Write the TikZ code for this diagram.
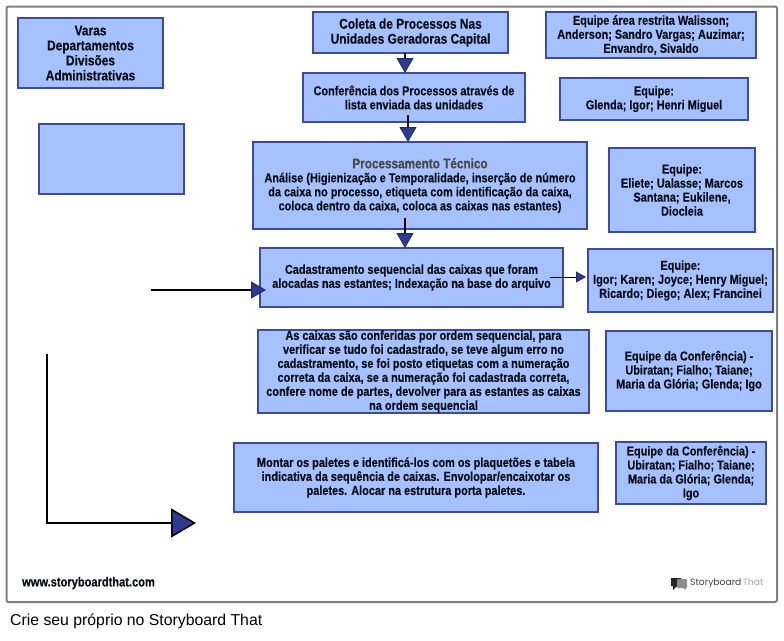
\documentclass[tikz,border=0pt]{standalone}
\usepackage{fontspec}
\setmainfont{Liberation Sans}
\newfontfamily\nar[FakeStretch=0.84,BoldFeatures={FakeBold=0.35}]{Liberation Sans}
\newfontfamily\logofont{Poppins}
\usetikzlibrary{arrows.meta,calc}
\definecolor{boxfill}{HTML}{A6C1FF}
\definecolor{boxline}{HTML}{3B4BA5}
\definecolor{tipfill}{HTML}{2E3A93}
\definecolor{inktext}{HTML}{0A0E18}
\tikzset{
  boxnode/.style={draw=boxline,fill=boxfill,line width=1.5pt,inner sep=0pt,outer sep=0pt,align=center,text=inktext,font=\nar\bfseries\fontsize{13}{14}\selectfont},
  bigtext/.style={font=\nar\bfseries\fontsize{14.2}{15}\selectfont},
  wire/.style={black,line width=1.1pt},
  dtip/.style={wire,-{Triangle[width=17pt,length=15pt,fill=tipfill,color=boxline!60!black,line width=1pt]}},
  stip/.style={wire,line width=.9pt,-{Triangle[width=11pt,length=10pt,fill=tipfill,color=boxline!60!black,line width=.8pt]}},
  btip/.style={wire,line width=2.4pt,-{Triangle[width=29pt,length=25pt,fill=tipfill,color=black,line width=1.5pt]}},
}
\newcommand{\bx}[7][]{\node[boxnode,#1,minimum width={(#5-#3)*1pt},minimum height={(#6-#4)*1pt}] (#2) at ({(#3+#5)/2},{(#4+#6)/2}) {#7};}
\begin{document}
\begin{tikzpicture}[x=1pt,y=-1pt]
\useasboundingbox (0,0) rectangle (784,640);
\fill[white] (0,0) rectangle (784,640);
\draw[rounded corners=2pt,draw=black!50,line width=2pt,fill=white] (6.5,6.5) rectangle (777,602);

\bx[bigtext]{varas}{18}{18}{163}{88}{Varas\\Departamentos\\Divisões\\Administrativas}
\bx{vazio}{39}{124}{184}{194}{}
\bx[bigtext]{coleta}{313}{12}{508}{53}{Coleta de Processos Nas\\Unidades Geradoras Capital}
\bx{confer}{303}{73}{525}{122}{Conferência dos Processos através de\\lista enviada das unidades}
\bx{proc}{253}{142}{587}{229}{{\color{black!72}\fontsize{14}{14}\selectfont Processamento Técnico}\\Análise (Higienização e Temporalidade, inserção de número\\da caixa no processo, etiqueta com identificação da caixa,\\coloca dentro da caixa, coloca as caixas nas estantes)}
\bx{cad}{260}{248}{563}{307}{Cadastramento sequencial das caixas que foram\\alocadas nas estantes; Indexação na base do arquivo}
\bx{eqa}{546}{12}{756}{58}{Equipe área restrita Walisson;\\Anderson; Sandro Vargas; Auzimar;\\Envandro, Sivaldo}
\bx{eqb}{560}{78}{748}{120}{Equipe:\\Glenda; Igor; Henri Miguel}
\bx{eqc}{609}{148}{755}{232}{Equipe:\\Eliete; Ualasse; Marcos\\Santana; Eukilene,\\Diocleia}
\bx{eqd}{588}{249}{773}{312}{Equipe:\\Igor; Karen; Joyce; Henry Miguel;\\Ricardo; Diego; Alex; Francinei}
\bx{confere}{258}{330}{589}{413}{As caixas são conferidas por ordem sequencial, para\\verificar se tudo foi cadastrado, se teve algum erro no\\cadastramento, se foi posto etiquetas com a numeração\\correta da caixa, se a numeração foi cadastrada correta,\\confere nome de partes, devolver para as estantes as caixas\\na ordem sequencial}
\bx{monta}{234}{443}{598}{512}{Montar os paletes e identificá-los com os plaquetões e tabela\\indicativa da sequência de caixas. Envolopar/encaixotar os\\paletes. Alocar na estrutura porta paletes.}
\bx{eqe}{606}{331}{772}{411}{Equipe da Conferência) -\\Ubiratan; Fialho; Taiane;\\Maria da Glória; Glenda; Igo}
\bx{eqf}{616}{442}{766}{504}{Equipe da Conferência) -\\Ubiratan; Fialho; Taiane;\\Maria da Glória; Glenda;\\Igo}

\coordinate (xa) at (405,0);
\coordinate (sb) at (408,115);
\coordinate (sc) at (405,218);
\coordinate (sd) at (151,290);
\coordinate (ed) at (266,290);
\coordinate (se) at (550,277);
\coordinate (ee) at (586,277);
\coordinate (sf) at (47,354);
\coordinate (cf) at (47,523);
\coordinate (ef) at (196,523);

\draw[dtip] (xa |- coleta.south) -- (xa |- confer.north);
\draw[dtip] (sb) -- (sb |- proc.north);
\draw[dtip] (sc) -- (sc |- cad.north);
\draw[dtip] (sd) -- (ed);
\draw[stip] (se) -- (ee);
\draw[btip,line join=miter] (sf) -- (cf) -- (ef);

\node[anchor=west,inner sep=0pt,text=inktext,font=\nar\bfseries\fontsize{13.2}{14}\selectfont] (site) at (22,583) {www.storyboardthat.com};
\node[anchor=west,inner sep=0pt,text=black,font=\fontsize{15.8}{16}\selectfont] (crie) at (10,621) {Crie seu próprio no Storyboard That};

% logo
\fill[black!85] (671,578) rectangle (681,586) (673,586) -- (677,586) -- (673,590) -- cycle;
\fill[black!45,rounded corners=1pt] (677,579) rectangle (687,588) (683,588) -- (686,588) -- (686,590) -- cycle;
\node[anchor=west,inner sep=0pt,font=\logofont\fontsize{9.2}{11}\selectfont] (logo) at (690,583) {\textcolor{black!75}{Storyboard}\,\textcolor{black!35}{That}};
\end{tikzpicture}
\end{document}
